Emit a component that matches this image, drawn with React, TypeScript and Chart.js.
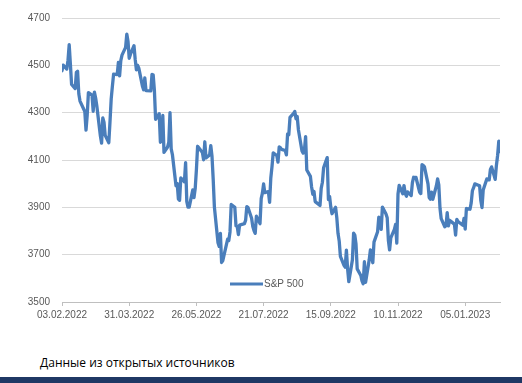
import React, { useEffect, useRef } from "react";
import { Chart, registerables } from "chart.js";

Chart.register(...registerables);

const seriesLabel = "S&P 500";
const sourceText = "Данные из открытых источников";
const startDate = "2022-02-03";
const tickStepDays = 56;
const yTicks = [3500, 3700, 3900, 4100, 4300, 4500, 4700];

const dates: string[] = [
  "2022-02-03","2022-02-04","2022-02-07","2022-02-08","2022-02-09","2022-02-10","2022-02-11","2022-02-14","2022-02-15","2022-02-16","2022-02-17","2022-02-18","2022-02-22","2022-02-23","2022-02-24","2022-02-25","2022-02-28",
  "2022-03-01","2022-03-02","2022-03-03","2022-03-04","2022-03-07","2022-03-08","2022-03-09","2022-03-10","2022-03-11","2022-03-14","2022-03-15","2022-03-16","2022-03-17","2022-03-18","2022-03-21","2022-03-22","2022-03-23","2022-03-24","2022-03-25","2022-03-28","2022-03-29","2022-03-30","2022-03-31",
  "2022-04-01","2022-04-04","2022-04-05","2022-04-06","2022-04-07","2022-04-08","2022-04-11","2022-04-12","2022-04-13","2022-04-14","2022-04-18","2022-04-19","2022-04-20","2022-04-21","2022-04-22","2022-04-25","2022-04-26","2022-04-27","2022-04-28","2022-04-29",
  "2022-05-02","2022-05-03","2022-05-04","2022-05-05","2022-05-06","2022-05-09","2022-05-10","2022-05-11","2022-05-12","2022-05-13","2022-05-16","2022-05-17","2022-05-18","2022-05-19","2022-05-20","2022-05-23","2022-05-24","2022-05-25","2022-05-26","2022-05-27","2022-05-31",
  "2022-06-01","2022-06-02","2022-06-03","2022-06-06","2022-06-07","2022-06-08","2022-06-09","2022-06-10","2022-06-13","2022-06-14","2022-06-15","2022-06-16","2022-06-17","2022-06-21","2022-06-22","2022-06-23","2022-06-24","2022-06-27","2022-06-28","2022-06-29","2022-06-30",
  "2022-07-01","2022-07-05","2022-07-06","2022-07-07","2022-07-08","2022-07-11","2022-07-12","2022-07-13","2022-07-14","2022-07-15","2022-07-18","2022-07-19","2022-07-20","2022-07-21","2022-07-22","2022-07-25","2022-07-26","2022-07-27","2022-07-28","2022-07-29",
  "2022-08-01","2022-08-02","2022-08-03","2022-08-04","2022-08-05","2022-08-08","2022-08-09","2022-08-10","2022-08-11","2022-08-12","2022-08-15","2022-08-16","2022-08-17","2022-08-18","2022-08-19","2022-08-22","2022-08-23","2022-08-24","2022-08-25","2022-08-26","2022-08-29","2022-08-30","2022-08-31",
  "2022-09-01","2022-09-02","2022-09-06","2022-09-07","2022-09-08","2022-09-09","2022-09-12","2022-09-13","2022-09-14","2022-09-15","2022-09-16","2022-09-19","2022-09-20","2022-09-21","2022-09-22","2022-09-23","2022-09-26","2022-09-27","2022-09-28","2022-09-29","2022-09-30",
  "2022-10-03","2022-10-04","2022-10-05","2022-10-06","2022-10-07","2022-10-10","2022-10-11","2022-10-12","2022-10-13","2022-10-14","2022-10-17","2022-10-18","2022-10-19","2022-10-20","2022-10-21","2022-10-24","2022-10-25","2022-10-26","2022-10-27","2022-10-28","2022-10-31",
  "2022-11-01","2022-11-02","2022-11-03","2022-11-04","2022-11-07","2022-11-08","2022-11-09","2022-11-10","2022-11-11","2022-11-14","2022-11-15","2022-11-16","2022-11-17","2022-11-18","2022-11-21","2022-11-22","2022-11-23","2022-11-25","2022-11-28","2022-11-29","2022-11-30",
  "2022-12-01","2022-12-02","2022-12-05","2022-12-06","2022-12-07","2022-12-08","2022-12-09","2022-12-12","2022-12-13","2022-12-14","2022-12-15","2022-12-16","2022-12-19","2022-12-20","2022-12-21","2022-12-22","2022-12-23","2022-12-27","2022-12-28","2022-12-29","2022-12-30",
  "2023-01-03","2023-01-04","2023-01-05","2023-01-06","2023-01-09","2023-01-10","2023-01-11","2023-01-12","2023-01-13","2023-01-17","2023-01-18","2023-01-19","2023-01-20","2023-01-23","2023-01-24","2023-01-25","2023-01-26","2023-01-27","2023-01-30","2023-01-31",
  "2023-02-01","2023-02-02","2023-02-03"
];

const values: number[] = [
  4477,4501,4484,4522,4587,4504,4419,4402,4471,4475,4380,4349,4305,4226,4289,4385,4374,
  4306,4387,4363,4329,4201,4171,4278,4260,4204,4173,4262,4358,4412,4463,4461,4512,4456,4520,4543,4576,4632,4602,4530,
  4546,4583,4525,4481,4500,4488,4413,4397,4447,4393,4392,4462,4459,4394,4272,4296,4175,4184,4288,4132,
  4155,4175,4300,4147,4123,3991,4001,3935,3930,4024,4008,4089,3924,3901,3901,3974,3941,3979,4058,4158,4132,
  4101,4177,4109,4121,4161,4116,4018,3901,3750,3735,3790,3667,3675,3765,3760,3796,3912,3900,3822,3819,3785,
  3825,3831,3845,3903,3899,3854,3819,3802,3790,3863,3831,3937,3960,3999,3962,3967,3921,4024,4072,4130,
  4119,4091,4155,4152,4145,4140,4122,4210,4207,4280,4297,4305,4274,4284,4228,4138,4129,4141,4199,4058,4031,3986,3955,
  3967,3924,3908,3980,4006,4067,4110,3933,3946,3901,3873,3900,3856,3790,3758,3693,3655,3647,3719,3640,3586,
  3678,3791,3783,3745,3640,3612,3589,3577,3670,3583,3678,3720,3695,3666,3753,3797,3859,3831,3807,3901,3872,
  3856,3760,3720,3771,3807,3828,3749,3956,3993,3957,3992,3959,3947,3965,3950,4004,4027,4026,3964,3958,4080,
  4077,4072,3999,3941,3934,3964,3934,3991,4020,3995,3896,3852,3818,3822,3878,3822,3845,3829,3783,3849,3840,
  3824,3853,3808,3895,3892,3919,3970,3983,3999,3991,3929,3899,3973,4020,4017,4016,4060,4071,4018,4077,
  4119,4180,4136
];

const DAY = 86400000;
const toDays = (s: string) => {
  const [y, m, d] = s.split("-").map(Number);
  const [y0, m0, d0] = startDate.split("-").map(Number);
  return Math.round((Date.UTC(y, m - 1, d) - Date.UTC(y0, m0 - 1, d0)) / DAY);
};
const fmtDay = (n: number) => {
  const [y0, m0, d0] = startDate.split("-").map(Number);
  const dt = new Date(Date.UTC(y0, m0 - 1, d0) + n * DAY);
  const dd = String(dt.getUTCDate()).padStart(2, "0");
  const mm = String(dt.getUTCMonth() + 1).padStart(2, "0");
  return `${dd}.${mm}.${dt.getUTCFullYear()}`;
};

const LINE_COLOR = "#4a7ebb";
const TEXT_COLOR = "#595959";
const FONT = "'Liberation Sans', Arial, sans-serif";

const legendPlugin = {
  id: "insideLegend",
  afterDraw(chart: any) {
    const { ctx, chartArea } = chart;
    const y = chartArea.bottom - 18;
    const x0 = chartArea.left + 168;
    ctx.save();
    ctx.strokeStyle = LINE_COLOR;
    ctx.lineWidth = 3;
    ctx.beginPath();
    ctx.moveTo(x0, y);
    ctx.lineTo(x0 + 33, y);
    ctx.stroke();
    ctx.fillStyle = TEXT_COLOR;
    ctx.font = `10px ${FONT}`;
    ctx.textBaseline = "middle";
    ctx.fillText(chart.data.datasets[0].label, x0 + 34, y);
    ctx.restore();
  },
};

export default function App() {
  const ref = useRef<HTMLCanvasElement>(null);
  useEffect(() => {
    const lastDay = toDays(dates[dates.length - 1]);
    const tickVals: number[] = [];
    for (let v = 0; v <= lastDay - 20; v += tickStepDays) tickVals.push(v);
    const chart = new Chart(ref.current!, {
      type: "line",
      data: {
        datasets: [
          {
            label: seriesLabel,
            data: dates.map((d, i) => ({ x: toDays(d), y: values[i] })),
            borderColor: LINE_COLOR,
            borderWidth: 3.3,
            pointRadius: 0,
            tension: 0,
            borderJoinStyle: "round",
            borderCapStyle: "round",
          },
        ],
      },
      options: {
        animation: false,
        responsive: false,
        maintainAspectRatio: false,
        layout: { padding: { left: 0, right: 22, top: 17, bottom: 0 } },
        plugins: { legend: { display: false }, tooltip: { enabled: false } },
        scales: {
          x: {
            type: "linear",
            min: 0,
            max: lastDay,
            afterBuildTicks: (s: any) => {
              s.ticks = tickVals.map((v) => ({ value: v }));
            },
            afterFit: (s: any) => {
              s.height = 38;
            },
            ticks: {
              color: TEXT_COLOR,
              font: { family: FONT, size: 10 },
              padding: 3,
              maxRotation: 0,
              autoSkip: false,
              callback: (v: any) => fmtDay(Number(v)),
            },
            grid: { drawOnChartArea: false, drawTicks: true, tickLength: 4, color: "#bfbfbf" },
            border: { color: "#bfbfbf" },
          },
          y: {
            min: yTicks[0],
            max: yTicks[yTicks.length - 1],
            afterBuildTicks: (s: any) => {
              s.ticks = yTicks.map((v) => ({ value: v }));
            },
            afterFit: (s: any) => {
              s.width = 62;
            },
            ticks: {
              color: TEXT_COLOR,
              font: { family: FONT, size: 10 },
              padding: 12,
              callback: (v: any) => String(v),
            },
            grid: { color: "#d9d9d9", drawTicks: false, lineWidth: 1 },
            border: { display: false },
          },
        },
      },
      plugins: [legendPlugin],
    });
    return () => chart.destroy();
  }, []);

  return (
    <div style={{ position: "fixed", left: 0, top: 0, width: 522, height: 383, background: "#fff", overflow: "hidden" }}>
      <canvas ref={ref} width={522} height={340} style={{ display: "block", width: 522, height: 340 }} />
      <div
        style={{
          position: "absolute",
          left: 40,
          top: 354,
          fontFamily: "'Open Sans', 'Noto Sans', sans-serif",
          fontSize: 12,
          color: "#000",
          whiteSpace: "nowrap",
        }}
      >
        {sourceText}
      </div>
      <div style={{ position: "absolute", left: 0, top: 377, width: 522, height: 6, background: "#1f3864" }} />
    </div>
  );
}
